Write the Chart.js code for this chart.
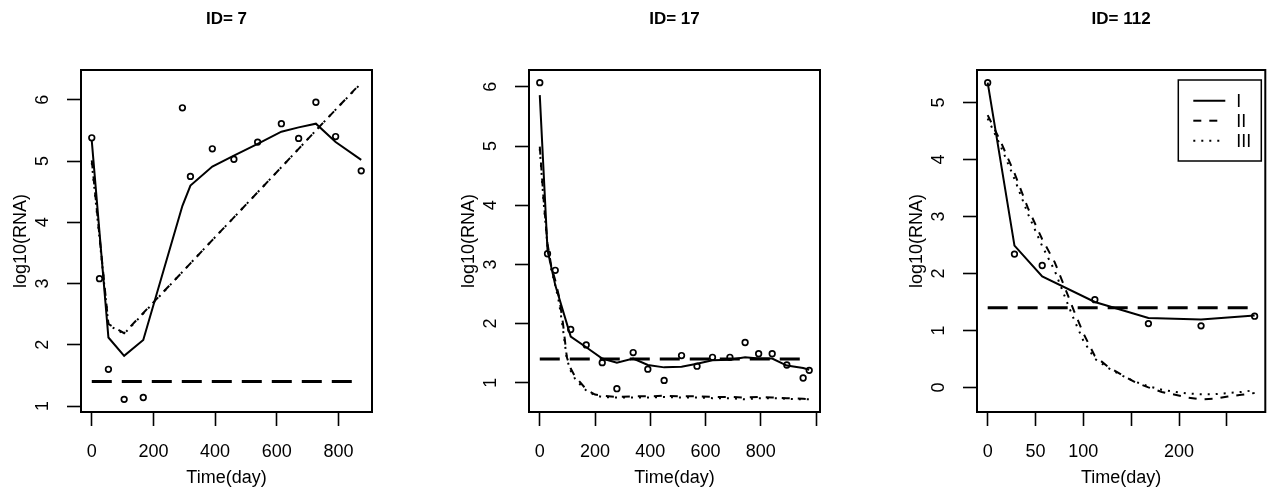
<!DOCTYPE html>
<html><head><meta charset="utf-8">
<script src="https://cdn.jsdelivr.net/npm/chart.js@4.4.1/dist/chart.umd.min.js"></script>
<style>
html,body{margin:0;padding:0;background:#fff;overflow:hidden;width:1271px;height:489px;position:relative;}
canvas{position:absolute;top:0;}
</style></head><body>
<canvas id="c1" width="448" height="489" style="left:0px"></canvas>
<canvas id="c2" width="448" height="489" style="left:448px"></canvas>
<canvas id="c3" width="375" height="489" style="left:896px"></canvas>
<script>
const FONT = '"Liberation Sans", Arial, Helvetica, sans-serif';

// ---------- Panel ID= 7 ----------
const t7     = [0, 25, 54, 105, 167, 294, 320, 391, 461, 538, 615, 671, 727, 791, 874];
const obs7   = [5.38, 3.08, 1.60, 1.11, 1.14, 5.87, 4.75, 5.20, 5.03, 5.31, 5.61, 5.37, 5.96, 5.40, 4.84];
const fitI7  = [5.33, 3.84, 2.12, 1.82, 2.08, 4.27, 4.60, 4.91, 5.09, 5.28, 5.48, 5.55, 5.61, 5.31, 5.02];
const fitII7 = [5.01, 3.78, 2.34, 2.19, 2.52, 3.19, 3.33, 3.71, 4.08, 4.49, 4.90, 5.20, 5.50, 5.84, 6.28];
const fitIII7= [4.97, 3.74, 2.32, 2.18, 2.51, 3.19, 3.33, 3.71, 4.08, 4.49, 4.90, 5.20, 5.50, 5.84, 6.27];

// ---------- Panel ID= 17 ----------
const t17     = [0, 28, 56, 112, 168, 226, 279, 338, 391, 450, 513, 569, 625, 688, 743, 792, 841, 894, 953, 975];
const obs17   = [6.07, 3.18, 2.90, 1.90, 1.64, 1.34, 0.90, 1.51, 1.23, 1.04, 1.46, 1.28, 1.43, 1.43, 1.68, 1.49, 1.49, 1.30, 1.08, 1.21];
const fitI17  = [5.86, 3.24, 2.65, 1.78, 1.60, 1.41, 1.34, 1.41, 1.30, 1.26, 1.27, 1.32, 1.38, 1.39, 1.43, 1.41, 1.41, 1.29, 1.25, 1.22];
const tc17    = [0, 14, 28, 42, 56, 70, 84, 98, 112, 126, 140, 170, 200, 226, 279, 338, 391, 450, 513, 569, 625, 688, 743, 792, 841, 894, 953, 975];
const fitII17 = [4.99, 4.09, 3.35, 2.96, 2.73, 2.45, 2.00, 1.43, 1.24, 1.12, 1.04, 0.88, 0.80, 0.78, 0.76, 0.77, 0.77, 0.78, 0.77, 0.77, 0.76, 0.76, 0.75, 0.76, 0.75, 0.74, 0.73, 0.72];
const fitIII17= [4.95, 4.05, 3.30, 2.90, 2.65, 2.35, 1.90, 1.40, 1.20, 1.08, 1.00, 0.86, 0.79, 0.76, 0.75, 0.75, 0.75, 0.76, 0.75, 0.75, 0.74, 0.74, 0.72, 0.74, 0.74, 0.73, 0.72, 0.72];

// ---------- Panel ID= 112 ----------
const t112     = [0, 28, 57, 112, 168, 223, 279];
const obs112   = [5.35, 2.34, 2.14, 1.54, 1.12, 1.08, 1.25];
const fitI112  = [5.35, 2.49, 1.95, 1.50, 1.22, 1.19, 1.26];
const tc112    = [0, 14, 28, 42, 57, 70, 80, 90, 100, 112, 126, 140, 154, 168, 182, 196, 210, 223, 237, 251, 265, 279];
const fitII112 = [4.78, 4.30, 3.76, 3.15, 2.60, 2.20, 1.78, 1.35, 0.95, 0.55, 0.36, 0.22, 0.09, 0.00, -0.08, -0.13, -0.18, -0.21, -0.20, -0.16, -0.13, -0.10];
const fitIII112= [4.72, 4.22, 3.66, 3.05, 2.48, 2.05, 1.62, 1.20, 0.82, 0.50, 0.34, 0.21, 0.10, 0.02, -0.04, -0.08, -0.11, -0.12, -0.12, -0.10, -0.08, -0.05];

const detectionLimit = 1.4;

const xTicks7   = [0, 200, 400, 600, 800];
const xTicks17  = [0, 200, 400, 600, 800, 1000];
const xTicks112 = [0, 50, 100, 150, 200, 250];
const xHidden17  = [1000];
const xHidden112 = [150, 250];
const yTicks7   = [1, 2, 3, 4, 5, 6];
const yTicks17  = [1, 2, 3, 4, 5, 6];
const yTicks112 = [0, 1, 2, 3, 4, 5];

const legendLabels = ['I', 'II', 'III'];

// ---------- helpers ----------
function rRange(vals) {
  const lo = Math.min(...vals), hi = Math.max(...vals), p = (hi - lo) * 0.04;
  return [lo - p, hi + p];
}
function pts(xs, ys) { return xs.map((x, i) => ({x: x, y: ys[i]})); }

const DASH_II = [8, 8];
const DASH_III = [2, 6];

const boxPlugin = {
  id: 'rbox',
  afterDraw(chart, args, opts) {
    const ctx = chart.ctx, a = chart.chartArea;
    ctx.save();
    ctx.strokeStyle = '#000';
    ctx.lineWidth = 2;
    ctx.strokeRect(a.left, a.top, a.right - a.left, a.bottom - a.top);
    // y tick labels, rotated like R (las = 0)
    const ys = chart.scales.y;
    ctx.fillStyle = '#000';
    ctx.font = '18px ' + FONT;
    ctx.textAlign = 'center';
    ctx.textBaseline = 'middle';
    (opts.yTicks || []).forEach(v => {
      const py = ys.getPixelForValue(v);
      ctx.save();
      ctx.translate(a.left - 38, py);
      ctx.rotate(-Math.PI / 2);
      ctx.fillText(String(v), 0, 0);
      ctx.restore();
    });
    // main title
    ctx.font = 'bold 17px ' + FONT;
    ctx.fillText(opts.title, (a.left + a.right) / 2, 19);
    // legend
    if (opts.legend) {
      const L = a.right - 87, T = a.top + 10, W = 83, H = 81;
      ctx.lineWidth = 1.5;
      ctx.strokeRect(L, T, W, H);
      const dashes = [[], DASH_II, DASH_III];
      ctx.font = '18px ' + FONT;
      ctx.textAlign = 'left';
      legendLabels.forEach((lab, i) => {
        const y = T + 20.7 + i * 20;
        ctx.beginPath();
        ctx.setLineDash(dashes[i]);
        ctx.lineWidth = 2;
        ctx.moveTo(L + 15, y);
        ctx.lineTo(L + 47, y);
        ctx.stroke();
        ctx.setLineDash([]);
        ctx.fillText(lab, L + 58, y + 1);
      });
    }
    ctx.restore();
  }
};

function makePanel(id, rightPad, title, t, obs, fitI, tc, fitII, fitIII, xTicks, xHidden, yTicks, legend) {
  const xr = rRange(t.concat(tc));
  const yr = rRange(obs.concat(fitI, fitII, fitIII, [detectionLimit]));
  const tMax = Math.max(...t);
  const lineDs = (data, dash) => ({
    data: data, showLine: true, pointRadius: 0, borderColor: '#000', borderWidth: 2,
    borderDash: dash, fill: false, tension: 0, borderCapStyle: 'butt'
  });
  return new Chart(document.getElementById(id), {
    type: 'scatter',
    data: {
      datasets: [
        { data: pts(t, obs), showLine: false, pointRadius: 2.8, pointStyle: 'circle',
          pointBorderColor: '#000', pointBackgroundColor: 'rgba(0,0,0,0)', pointBorderWidth: 1.7 },
        lineDs(pts(t, fitI), []),
        lineDs(pts(tc, fitII), DASH_II),
        lineDs(pts(tc, fitIII), DASH_III),
        Object.assign(lineDs([{x: 0, y: detectionLimit}, {x: tMax, y: detectionLimit}], [20, 10]), {borderWidth: 3})
      ]
    },
    options: {
      responsive: false, animation: false, devicePixelRatio: 1,
      layout: { padding: { left: 0, top: 70, right: rightPad, bottom: 0 } },
      plugins: {
        legend: { display: false }, tooltip: { enabled: false }, title: { display: false },
        rbox: { title: title, yTicks: yTicks, legend: legend }
      },
      scales: {
        x: {
          type: 'linear', min: xr[0], max: xr[1],
          afterBuildTicks: s => { s.ticks = xTicks.map(v => ({value: v})); },
          afterFit: s => { s.height = 77; },
          ticks: { font: { family: FONT, size: 18 }, color: '#000', padding: 15, maxRotation: 0, autoSkip: false,
                   callback: v => xHidden.includes(v) ? '' : String(v) },
          grid: { drawOnChartArea: false, drawTicks: true, tickLength: 14, tickWidth: 1.6, tickColor: '#000' },
          border: { display: false },
          title: { display: true, text: 'Time(day)', color: '#000', font: { family: FONT, size: 18 }, padding: { top: 0, bottom: 0 } }
        },
        y: {
          type: 'linear', min: yr[0], max: yr[1],
          afterBuildTicks: s => { s.ticks = yTicks.map(v => ({value: v})); },
          afterFit: s => { s.width = 81; },
          ticks: { display: false },
          grid: { drawOnChartArea: false, drawTicks: true, tickLength: 14, tickWidth: 1.6, tickColor: '#000' },
          border: { display: false },
          title: { display: true, text: 'log10(RNA)', color: '#000', font: { family: FONT, size: 18 }, padding: { top: 10, bottom: 0 } }
        }
      }
    },
    plugins: [boxPlugin]
  });
}

makePanel('c1', 76, 'ID= 7',   t7,   obs7,   fitI7,   t7,    fitII7,   fitIII7,   xTicks7,   [],         yTicks7,   false);
makePanel('c2', 76, 'ID= 17',  t17,  obs17,  fitI17,  tc17,  fitII17,  fitIII17,  xTicks17,  xHidden17,  yTicks17,  false);
makePanel('c3', 4,  'ID= 112', t112, obs112, fitI112, tc112, fitII112, fitIII112, xTicks112, xHidden112, yTicks112, true);
</script>
</body></html>
